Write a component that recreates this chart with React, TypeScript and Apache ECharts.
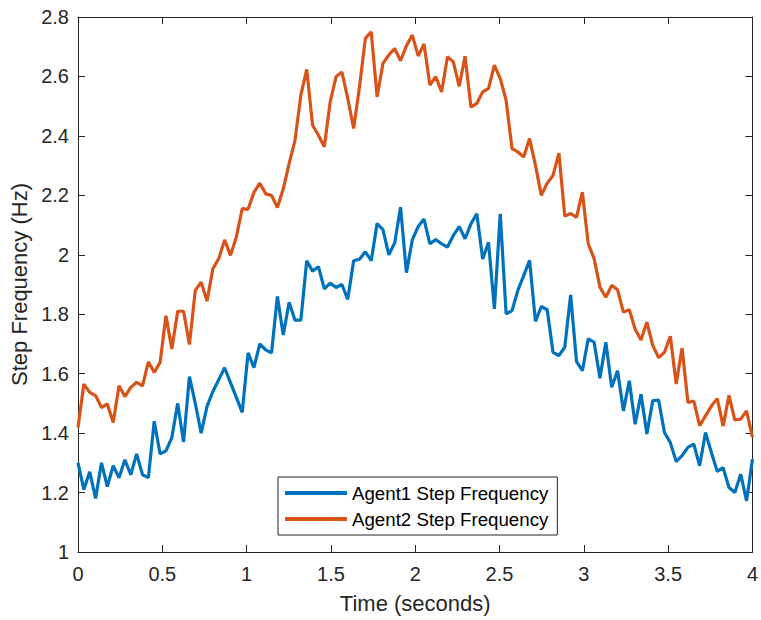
import React, { useEffect, useRef } from "react";
import * as echarts from "echarts";

const X_TICKS = [0, 0.5, 1, 1.5, 2, 2.5, 3, 3.5, 4];
const Y_TICKS = [1, 1.2, 1.4, 1.6, 1.8, 2, 2.2, 2.4, 2.6, 2.8];
const SERIES_NAMES = ["Agent1 Step Frequency", "Agent2 Step Frequency"];

const AGENT1 = [
  1.30, 1.21, 1.27, 1.18, 1.30, 1.22, 1.29, 1.25, 1.31, 1.26,
  1.33, 1.26, 1.25, 1.44, 1.33, 1.34, 1.385, 1.50, 1.37, 1.59,
  1.50, 1.40, 1.49, 1.54, 1.58, 1.62, 1.57, 1.52, 1.47, 1.67,
  1.62, 1.70, 1.68, 1.67, 1.86, 1.73, 1.84, 1.78, 1.78, 1.98,
  1.945, 1.96, 1.885, 1.905, 1.89, 1.90, 1.85, 1.98, 1.985, 2.01,
  1.98, 2.105, 2.085, 2.00, 2.04, 2.16, 1.94, 2.05, 2.095, 2.12,
  2.037, 2.051, 2.037, 2.026, 2.065, 2.095, 2.054, 2.104, 2.138, 1.986,
  2.042, 1.818, 2.138, 1.801, 1.812, 1.880, 1.930, 1.981, 1.776, 1.826,
  1.815, 1.672, 1.661, 1.689, 1.865, 1.641, 1.610, 1.717, 1.706, 1.585,
  1.706, 1.554, 1.610, 1.475, 1.576, 1.430, 1.531, 1.397, 1.509, 1.511,
  1.402, 1.368, 1.304, 1.324, 1.352, 1.363, 1.290, 1.402, 1.335, 1.271,
  1.284, 1.217, 1.200, 1.262, 1.172, 1.312,
];

const AGENT2 = [
  1.419, 1.565, 1.537, 1.526, 1.486, 1.498, 1.436, 1.559, 1.523, 1.554,
  1.571, 1.559, 1.640, 1.604, 1.638, 1.795, 1.683, 1.810, 1.810, 1.698,
  1.880, 1.908, 1.844, 1.953, 1.987, 2.05, 1.998, 2.06, 2.155, 2.153,
  2.21, 2.241, 2.205, 2.200, 2.159, 2.222, 2.307, 2.385, 2.537, 2.624,
  2.436, 2.402, 2.363, 2.514, 2.599, 2.615, 2.526, 2.425, 2.565, 2.728,
  2.750, 2.531, 2.644, 2.672, 2.694, 2.653, 2.703, 2.739, 2.669, 2.709,
  2.571, 2.599, 2.548, 2.666, 2.649, 2.567, 2.668, 2.497, 2.509, 2.548,
  2.559, 2.638, 2.593, 2.520, 2.357, 2.346, 2.329, 2.391, 2.301, 2.200,
  2.241, 2.267, 2.342, 2.130, 2.139, 2.126, 2.211, 2.037, 1.987, 1.891,
  1.857, 1.897, 1.882, 1.807, 1.815, 1.750, 1.713, 1.773, 1.695, 1.654,
  1.672, 1.726, 1.565, 1.686, 1.503, 1.508, 1.425, 1.458, 1.491, 1.516,
  1.423, 1.527, 1.444, 1.447, 1.475, 1.386,
];

const T_END = 4;
const TIMES = AGENT1.map((_, i) => (i * T_END) / (AGENT1.length - 1));

const FONT = "'Liberation Sans', Arial, Helvetica, sans-serif";
const INK = "#262626";

export default function App() {
  const ref = useRef<HTMLDivElement>(null);

  useEffect(() => {
    document.body.style.margin = "0";
    if (!ref.current) return;
    const chart = echarts.init(ref.current, null, { renderer: "svg" });

    const xBase = {
      type: "value" as const,
      min: X_TICKS[0],
      max: X_TICKS[X_TICKS.length - 1],
      interval: 0.5,
      splitLine: { show: false },
      axisLine: { show: true, onZero: false, lineStyle: { color: INK, width: 1 } },
      axisTick: { show: true, inside: true, length: 7, lineStyle: { color: INK } },
    };
    const yBase = {
      type: "value" as const,
      min: Y_TICKS[0],
      max: Y_TICKS[Y_TICKS.length - 1],
      interval: 0.2,
      splitLine: { show: false },
      axisLine: { show: true, onZero: false, lineStyle: { color: INK, width: 1 } },
      axisTick: { show: true, inside: true, length: 7, lineStyle: { color: INK } },
    };

    chart.setOption({
      animation: false,
      backgroundColor: "#ffffff",
      textStyle: { fontFamily: FONT },
      grid: { left: 78, right: 4, top: 17, bottom: 68, containLabel: false },
      xAxis: [
        {
          ...xBase,
          position: "bottom",
          name: "Time (seconds)",
          nameLocation: "middle",
          nameGap: 40,
          nameTextStyle: { fontSize: 22, color: INK, fontFamily: FONT },
          axisLabel: {
            show: true,
            fontSize: 20,
            color: INK,
            fontFamily: FONT,
            margin: 12,
            showMinLabel: true,
            showMaxLabel: true,
          },
        },
        {
          ...xBase,
          position: "top",
          axisLabel: { show: false },
        },
      ],
      yAxis: [
        {
          ...yBase,
          position: "left",
          name: "Step Frequency (Hz)",
          nameLocation: "middle",
          nameGap: 47,
          nameTextStyle: { fontSize: 22, color: INK, fontFamily: FONT },
          axisLabel: {
            show: true,
            fontSize: 20,
            color: INK,
            fontFamily: FONT,
            margin: 9,
            showMinLabel: true,
            showMaxLabel: true,
          },
        },
        {
          ...yBase,
          position: "right",
          axisLabel: { show: false },
        },
      ],
      legend: {
        show: true,
        orient: "vertical",
        left: 278,
        top: 477,
        padding: [6, 9, 6, 7],
        itemGap: 6,
        itemWidth: 62,
        itemHeight: 4,
        icon: "rect",
        backgroundColor: "#ffffff",
        borderColor: INK,
        borderWidth: 1,
        borderRadius: 0,
        textStyle: { fontSize: 18.7, color: "#000000", fontFamily: FONT, lineHeight: 20 },
        data: SERIES_NAMES,
      },
      series: [
        {
          name: SERIES_NAMES[0],
          type: "line",
          xAxisIndex: 0,
          yAxisIndex: 0,
          data: TIMES.map((t, i) => [t, AGENT1[i]]),
          symbol: "none",
          showSymbol: false,
          lineStyle: { color: "#0072BD", width: 3.2 },
          itemStyle: { color: "#0072BD" },
        },
        {
          name: SERIES_NAMES[1],
          type: "line",
          xAxisIndex: 0,
          yAxisIndex: 0,
          data: TIMES.map((t, i) => [t, AGENT2[i]]),
          symbol: "none",
          showSymbol: false,
          lineStyle: { color: "#D95319", width: 3.2 },
          itemStyle: { color: "#D95319" },
        },
      ],
    });

    return () => chart.dispose();
  }, []);

  return (
    <div
      ref={ref}
      style={{ position: "absolute", left: 0, top: 0, width: 761, height: 620 }}
    />
  );
}
